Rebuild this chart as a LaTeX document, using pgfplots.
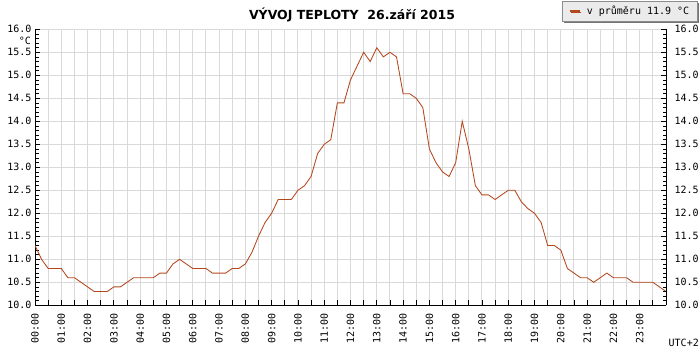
\documentclass[border=0pt]{standalone}
\usepackage{fontspec}
\usepackage{pgfplots}
\pgfplotsset{compat=1.18}
\usetikzlibrary{shadows}
\newfontfamily\mono{DejaVu Sans Mono}
\newfontfamily\titlefont{DejaVu Sans}
\definecolor{linec}{HTML}{B4471C}
\definecolor{gridc}{HTML}{D9D9D9}
\begin{document}
\begin{tikzpicture}
\useasboundingbox (0,0) rectangle (700bp,350bp);
\pgfplotsset{
  common/.style={
    scale only axis, width=631bp, height=276bp,
    at={(35bp,44.7bp)}, anchor=south west,
    xmin=0, xmax=24, ymin=10, ymax=16,
    ytick={10,10.5,...,16},
    yticklabels={10.0,10.5,11.0,11.5,12.0,12.5,13.0,13.5,14.0,14.5,15.0,15.5,16.0},
    minor y tick num=4,
    tick align=inside,
    major tick length=5bp, minor tick length=3.5bp,
    tick style={black, line width=0.8bp},
    axis line style={black, line width=1bp},
    ticklabel style={font=\mono\fontsize{10bp}{12bp}\selectfont},
  }
}
\begin{axis}[common, name=ax,
  axis x line*=bottom, axis y line*=left,
  xtick={0,0.5,...,23.5},
  xticklabels={00:00,,01:00,,02:00,,03:00,,04:00,,05:00,,06:00,,07:00,,08:00,,09:00,,10:00,,11:00,,12:00,,13:00,,14:00,,15:00,,16:00,,17:00,,18:00,,19:00,,20:00,,21:00,,22:00,,23:00,},
  xticklabel style={rotate=90, anchor=east},
  xticklabel shift=5bp,
  grid=major, grid style={draw=gridc, line width=1bp},
  legend style={at={(1.0507,1.1025)}, anchor=north east,
    fill=black!8, draw=black!45, line width=0.6bp,
    drop shadow={shadow xshift=1.2bp, shadow yshift=-1.2bp, fill=black!55, opacity=1},
    font=\mono\fontsize{10bp}{12bp}\selectfont,
    inner xsep=6.5bp, inner ysep=3bp, column sep=4bp},
  legend image code/.code={\draw[#1, line width=1.8bp] (0bp,0bp) -- (10bp,0bp);},
]
\addplot[color=linec, line width=0.85bp] coordinates {
(0,11.3)(0.25,11.0)(0.5,10.8)(1,10.8)(1.25,10.6)(1.5,10.6)(1.75,10.5)(2,10.4)(2.25,10.3)(2.75,10.3)(3,10.4)(3.25,10.4)(3.5,10.5)(3.75,10.6)(4.5,10.6)(4.75,10.7)(5,10.7)(5.25,10.9)(5.5,11.0)(5.75,10.9)(6,10.8)(6.5,10.8)(6.75,10.7)(7.25,10.7)(7.5,10.8)(7.75,10.8)(8,10.9)(8.25,11.15)(8.5,11.5)(8.75,11.8)(9,12.0)(9.25,12.3)(9.75,12.3)(10,12.5)(10.25,12.6)(10.5,12.8)(10.75,13.3)(11,13.5)(11.25,13.6)(11.5,14.4)(11.75,14.4)(12,14.9)(12.25,15.2)(12.5,15.5)(12.75,15.3)(13,15.6)(13.25,15.4)(13.5,15.5)(13.75,15.4)(14,14.6)(14.25,14.6)(14.5,14.5)(14.75,14.3)(15,13.4)(15.25,13.1)(15.5,12.9)(15.75,12.8)(16,13.1)(16.25,14.0)(16.5,13.4)(16.75,12.6)(17,12.4)(17.25,12.4)(17.5,12.3)(17.75,12.4)(18,12.5)(18.25,12.5)(18.5,12.25)(18.75,12.1)(19,12.0)(19.25,11.8)(19.5,11.3)(19.75,11.3)(20,11.2)(20.25,10.8)(20.5,10.7)(20.75,10.6)(21,10.6)(21.25,10.5)(21.5,10.6)(21.75,10.7)(22,10.6)(22.5,10.6)(22.75,10.5)(23.5,10.5)(23.75,10.4)(24,10.3)
};
\addlegendentry{v průměru 11.9 °C}
\end{axis}
\begin{axis}[common,
  axis y line*=right, axis x line=none,
  yticklabel shift=5bp,
]
\end{axis}
\node[anchor=east, inner sep=0pt, font=\mono\fontsize{10bp}{12bp}\selectfont] at (31bp,309.5bp) {°C};
\node[inner sep=0pt, font=\titlefont\bfseries\fontsize{12.5bp}{15bp}\selectfont] at (352bp,335.5bp) {VÝVOJ TEPLOTY\ \ 26.září 2015};
\node[anchor=east, inner sep=0pt, font=\mono\fontsize{10bp}{12bp}\selectfont] at (699bp,7bp) {UTC+2};
\end{tikzpicture}
\end{document}
